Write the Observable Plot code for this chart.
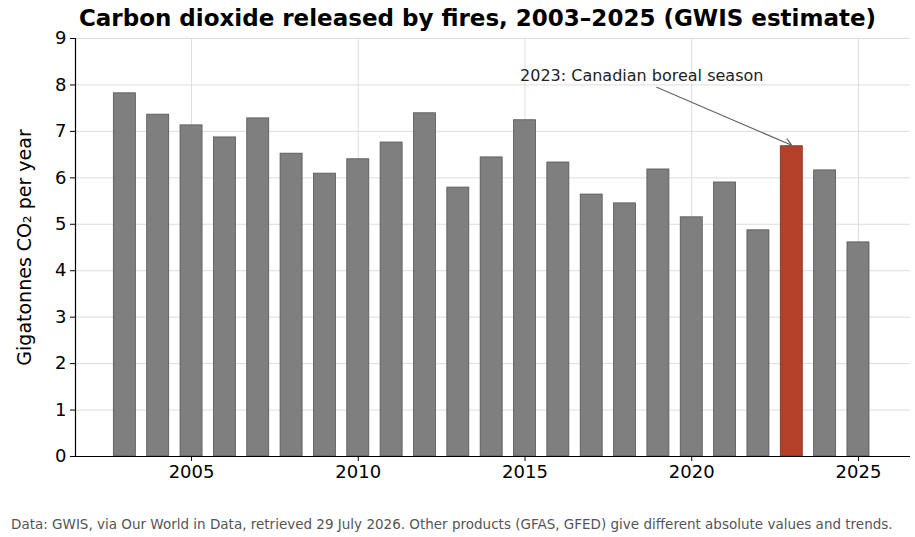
<!DOCTYPE html>
<html><head><meta charset="utf-8">
<script src="https://cdn.jsdelivr.net/npm/d3@7"></script>
<script src="https://cdn.jsdelivr.net/npm/@observablehq/plot@0.6"></script>
<style>
body{margin:0;background:#fff;font-family:"DejaVu Sans",sans-serif;width:915px}
#t{height:26px;line-height:36px;text-align:center;font-weight:bold;font-size:23px;padding-left:40px}
#c{font-size:13.5px;color:#555;padding-left:11px;margin-top:14px}
g[aria-label="x-axis tick label"], g[aria-label="y-axis tick label"]{font-size:18px}
g[aria-label="y-axis label"]{font-size:19px}
</style></head><body>
<div id="t">Carbon dioxide released by fires, 2003–2025 (GWIS estimate)</div>
<div id="p"></div>
<div id="c">Data: GWIS, via Our World in Data, retrieved 29 July 2026. Other products (GFAS, GFED) give different absolute values and trends.</div>
<script>
const years = d3.range(2003, 2026);
const values = [7.82,7.36,7.13,6.87,7.28,6.52,6.09,6.40,6.76,7.39,5.79,6.44,7.24,6.33,5.64,5.45,6.18,5.15,5.90,4.87,6.68,6.16,4.61];
const highlight = 2023;
const xTicks = [2005,2010,2015,2020,2025];
const yTicks = [0,1,2,3,4,5,6,7,8,9];
const note = "2023: Canadian boreal season";
const data = years.map((y,i)=>({year:y,value:values[i]}));
const chart = Plot.plot({
  width:915,height:476,marginTop:12,marginBottom:46,marginLeft:75,marginRight:5,
  style:{fontFamily:"DejaVu Sans",color:"#000"},
  x:{domain:[2001.52,2026.56],ticks:xTicks,tickFormat:d=>String(d),label:null,grid:true,tickSize:5},
  y:{domain:[0,9],ticks:yTicks,label:"Gigatonnes CO₂ per year",labelAnchor:"center",labelArrow:"none",grid:true,tickSize:5,labelOffset:58},
  marks:[
    Plot.rectY(data,{x1:d=>d.year-0.33,x2:d=>d.year+0.33,y:"value",
      fill:d=>d.year===highlight?"#b5402a":"#7f7f7f",
      stroke:d=>d.year===highlight?"#8b2a18":"#555",strokeWidth:0.8}),
    Plot.ruleY([0],{stroke:"#000",strokeWidth:1.2}),
    Plot.ruleX([2001.52],{stroke:"#000",strokeWidth:1.2}),
    Plot.text([{x:2018.5,y:8.2}],{x:"x",y:"y",text:()=>note,fontSize:16,fill:"#222"}),
    Plot.arrow([{x1:2018.95,y1:7.95,x2:2023.0,y2:6.7}],{x1:"x1",y1:"y1",x2:"x2",y2:"y2",stroke:"#666",strokeWidth:1.2,bend:0,headLength:10})
  ]
});
chart.querySelectorAll("[aria-label='x-grid'] line, [aria-label='y-grid'] line").forEach(l=>{l.setAttribute("stroke","#ddd");l.setAttribute("stroke-opacity","1")});
document.getElementById("p").appendChild(chart);
</script></body></html>
